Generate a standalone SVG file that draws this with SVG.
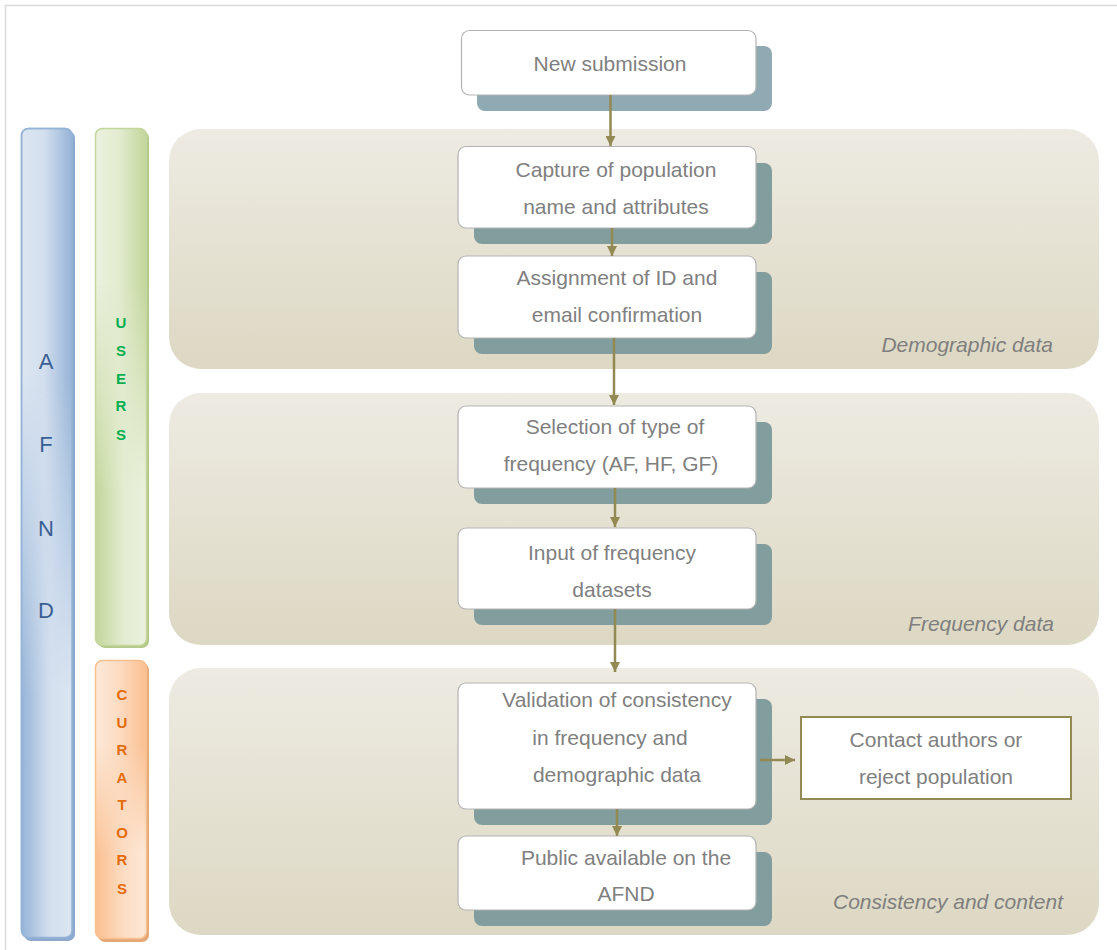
<svg xmlns="http://www.w3.org/2000/svg" width="1117" height="950" viewBox="0 0 1117 950">
<defs>
<style>
.box{fill:#ffffff;stroke:#b3b3b3;stroke-width:1.2}
.shadow{fill:#829d9d}
.txt{font-family:"Liberation Sans",Arial,sans-serif;font-size:21px;fill:#808080;text-anchor:middle}
.band-label{font-family:"Liberation Sans",Arial,sans-serif;font-size:21px;font-style:italic;fill:#7f7f7f;text-anchor:end}
.conn{stroke:#938953;stroke-width:2.5;fill:none}
.afnd{font-family:"Liberation Sans",Arial,sans-serif;font-size:22px;fill:#3a5f94;text-anchor:middle}
.users{font-family:"Liberation Sans",Arial,sans-serif;font-size:15px;font-weight:bold;fill:#00b050;text-anchor:middle}
.cur{font-family:"Liberation Sans",Arial,sans-serif;font-size:15px;font-weight:bold;fill:#e46c0a;text-anchor:middle}
</style>
<linearGradient id="bandG" x1="0" y1="0" x2="0" y2="1">
<stop offset="0" stop-color="#edebe2"/>
<stop offset="1" stop-color="#ddd8c3"/>
</linearGradient>
<linearGradient id="blueA" x1="0" y1="0" x2="1" y2="0">
<stop offset="0" stop-color="#dce6f2"/>
<stop offset="0.45" stop-color="#d3dfee"/>
<stop offset="1" stop-color="#95b3d7"/>
</linearGradient>
<linearGradient id="blueB" x1="0" y1="0" x2="1" y2="0">
<stop offset="0" stop-color="#95b3d7"/>
<stop offset="0.55" stop-color="#d3dfee"/>
<stop offset="1" stop-color="#dce6f2"/>
</linearGradient>
<linearGradient id="greenA" x1="0" y1="0" x2="1" y2="0">
<stop offset="0" stop-color="#ebf1de"/>
<stop offset="0.45" stop-color="#e3ecd1"/>
<stop offset="1" stop-color="#c3d69b"/>
</linearGradient>
<linearGradient id="greenB" x1="0" y1="0" x2="1" y2="0">
<stop offset="0" stop-color="#c3d69b"/>
<stop offset="0.55" stop-color="#e3ecd1"/>
<stop offset="1" stop-color="#ebf1de"/>
</linearGradient>
<linearGradient id="orA" x1="0" y1="0" x2="1" y2="0">
<stop offset="0" stop-color="#fde9d9"/>
<stop offset="0.45" stop-color="#fcdcc3"/>
<stop offset="1" stop-color="#fabf8f"/>
</linearGradient>
<linearGradient id="orB" x1="0" y1="0" x2="1" y2="0">
<stop offset="0" stop-color="#fabf8f"/>
<stop offset="0.55" stop-color="#fcdcc3"/>
<stop offset="1" stop-color="#fde9d9"/>
</linearGradient>
<linearGradient id="fadeV" x1="0" y1="0" x2="0" y2="1">
<stop offset="0.3" stop-color="#fff" stop-opacity="0"/>
<stop offset="0.7" stop-color="#fff" stop-opacity="1"/>
</linearGradient>
<mask id="mBlue" maskUnits="userSpaceOnUse" x="0" y="120" width="100" height="830">
<rect x="0" y="128" width="100" height="812" fill="url(#fadeV)"/>
</mask>
<mask id="mGreen" maskUnits="userSpaceOnUse" x="80" y="120" width="80" height="540">
<rect x="80" y="128" width="80" height="518" fill="url(#fadeV)"/>
</mask>
<mask id="mOr" maskUnits="userSpaceOnUse" x="80" y="650" width="80" height="300">
<rect x="80" y="660" width="80" height="279" fill="url(#fadeV)"/>
</mask>
<marker id="arr" viewBox="0 0 10 10" refX="10" refY="5" markerWidth="4" markerHeight="4" orient="auto" markerUnits="strokeWidth">
<path d="M0,0 L10,5 L0,10 z" fill="#938953"/>
</marker>
</defs>

<rect x="5.5" y="5.5" width="1130" height="960" fill="#ffffff" stroke="#d9d9d9" stroke-width="1.5"/>

<g id="bands">
<g id="band-demographic">
<rect x="169" y="129" width="930" height="240" rx="32" ry="32" fill="url(#bandG)"/>
<text class="band-label" x="1053" y="352">Demographic data</text>
</g>
<g id="band-frequency">
<rect x="169" y="393" width="930" height="252" rx="32" ry="32" fill="url(#bandG)"/>
<text class="band-label" x="1054" y="631">Frequency data</text>
</g>
<g id="band-consistency">
<rect x="169" y="668" width="930" height="267" rx="32" ry="32" fill="url(#bandG)"/>
<text class="band-label" x="1063" y="909">Consistency and content</text>
</g>
</g>

<g id="col-afnd">
<rect x="24" y="131" width="51" height="810" rx="7" fill="#8ea9cf"/>
<rect x="21.5" y="128.5" width="50.5" height="809" rx="7" fill="url(#blueA)" stroke="#95b3d7" stroke-width="1.5"/>
<rect x="21.5" y="128.5" width="50.5" height="809" rx="7" fill="url(#blueB)" mask="url(#mBlue)"/>
<rect x="21.5" y="128.5" width="50.5" height="809" rx="7" fill="none" stroke="#95b3d7" stroke-width="1.5"/>
<text class="afnd" x="46" y="369">A</text>
<text class="afnd" x="46" y="452">F</text>
<text class="afnd" x="46" y="536">N</text>
<text class="afnd" x="46" y="618">D</text>
</g>

<g id="col-users">
<rect x="98" y="131" width="51" height="517" rx="7" fill="#b3c98a"/>
<rect x="95.5" y="128.5" width="51" height="517" rx="7" fill="url(#greenA)"/>
<rect x="95.5" y="128.5" width="51" height="517" rx="7" fill="url(#greenB)" mask="url(#mGreen)"/>
<rect x="95.5" y="128.5" width="51" height="517" rx="7" fill="none" stroke="#c3d69b" stroke-width="1.5"/>
<text class="users" x="121" y="328">U</text>
<text class="users" x="121" y="356">S</text>
<text class="users" x="121" y="384">E</text>
<text class="users" x="121" y="411">R</text>
<text class="users" x="121" y="440">S</text>
</g>

<g id="col-curators">
<rect x="98" y="663" width="51" height="279" rx="7" fill="#e3a877"/>
<rect x="95.5" y="660.5" width="51" height="278" rx="7" fill="url(#orA)"/>
<rect x="95.5" y="660.5" width="51" height="278" rx="7" fill="url(#orB)" mask="url(#mOr)"/>
<rect x="95.5" y="660.5" width="51" height="278" rx="7" fill="none" stroke="#fabf8f" stroke-width="1.5"/>
<text class="cur" x="122" y="700">C</text>
<text class="cur" x="122" y="728">U</text>
<text class="cur" x="122" y="755">R</text>
<text class="cur" x="122" y="783">A</text>
<text class="cur" x="122" y="810">T</text>
<text class="cur" x="122" y="838">O</text>
<text class="cur" x="122" y="865">R</text>
<text class="cur" x="122" y="894">S</text>
</g>

<g id="node-new-submission">
<rect x="477" y="46" width="295" height="65" rx="8" fill="#8faab2"/>
<rect class="box" x="461.5" y="30.5" width="294.5" height="64.5" rx="8"/>
<text class="txt" x="610" y="71">New submission</text>
</g>

<g id="node-capture">
<rect class="shadow" x="474" y="163" width="298" height="81" rx="8"/>
<rect class="box" x="458" y="146.5" width="298" height="81.5" rx="8"/>
<text class="txt" x="616" y="177">Capture of population</text>
<text class="txt" x="616" y="214">name and attributes</text>
</g>

<g id="node-assignment">
<rect class="shadow" x="474" y="272" width="298" height="82" rx="8"/>
<rect class="box" x="458" y="256" width="298" height="82" rx="8"/>
<text class="txt" x="617" y="285">Assignment of ID and</text>
<text class="txt" x="617" y="322">email confirmation</text>
</g>

<g id="node-selection">
<rect class="shadow" x="474" y="422" width="298" height="82" rx="8"/>
<rect class="box" x="458" y="406" width="298" height="82" rx="8"/>
<text class="txt" x="615" y="434">Selection of type of</text>
<text class="txt" x="611" y="471">frequency (AF, HF, GF)</text>
</g>

<g id="node-input">
<rect class="shadow" x="474" y="544" width="298" height="81" rx="8"/>
<rect class="box" x="458" y="528" width="298" height="81" rx="8"/>
<text class="txt" x="612" y="560">Input of frequency</text>
<text class="txt" x="612" y="597">datasets</text>
</g>

<g id="node-validation">
<rect class="shadow" x="474" y="699" width="298" height="126" rx="8"/>
<rect class="box" x="458" y="683" width="298" height="126" rx="8"/>
<text class="txt" x="617" y="707">Validation of consistency</text>
<text class="txt" x="610" y="745">in frequency and</text>
<text class="txt" x="617" y="782">demographic data</text>
</g>

<g id="node-public">
<rect class="shadow" x="474" y="852" width="298" height="74" rx="8"/>
<rect class="box" x="458" y="836" width="298" height="74" rx="8"/>
<text class="txt" x="626" y="865">Public available on the</text>
<text class="txt" x="626" y="901">AFND</text>
</g>

<g id="node-contact">
<rect x="801" y="717" width="270" height="82" fill="#ffffff" stroke="#938953" stroke-width="2"/>
<text class="txt" x="936" y="747">Contact authors or</text>
<text class="txt" x="936" y="784">reject population</text>
</g>

<g id="connectors">
<line class="conn" x1="610.5" y1="95" x2="610.5" y2="146" marker-end="url(#arr)"/>
<line class="conn" x1="612" y1="228" x2="612" y2="256" marker-end="url(#arr)"/>
<line class="conn" x1="614" y1="338" x2="614" y2="405" marker-end="url(#arr)"/>
<line class="conn" x1="615" y1="488" x2="615" y2="527" marker-end="url(#arr)"/>
<line class="conn" x1="615" y1="609" x2="615" y2="672" marker-end="url(#arr)"/>
<line class="conn" x1="617" y1="809" x2="617" y2="836" marker-end="url(#arr)"/>
<line class="conn" x1="760" y1="760" x2="795" y2="760" marker-end="url(#arr)"/>
</g>
</svg>
